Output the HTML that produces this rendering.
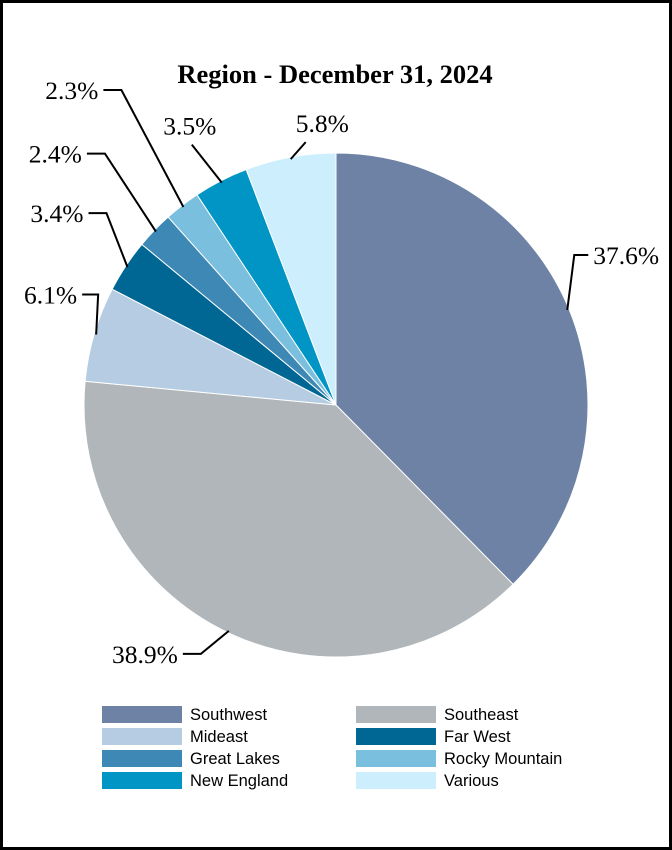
<!DOCTYPE html>
<html><head><meta charset="utf-8">
<style>
body{margin:0;background:#fff;}
#wrap{position:relative;width:672px;height:850px;background:#fff;}
svg{position:absolute;left:0;top:0;}
</style></head>
<body>
<div id="wrap">
<svg id="chart" width="672" height="850">
<rect x="1.5" y="1.5" width="669" height="847" fill="#fff" stroke="#000" stroke-width="3"/>
<text x="335" y="83" text-anchor="middle" font-family="Liberation Serif, serif" font-weight="bold" font-size="26.5">Region - December 31, 2024</text>
<g id="slices"></g><g id="labels"></g><g id="legend"></g>
</svg>
</div>
<script>
const categories=["Southwest","Southeast","Mideast","Far West","Great Lakes","Rocky Mountain","New England","Various"];
const values=[37.6,38.9,6.1,3.4,2.4,2.3,3.5,5.8];
const valueLabels=["37.6%","38.9%","6.1%","3.4%","2.4%","2.3%","3.5%","5.8%"];
const colors=["#6e82a5","#b0b6b9","#b6cce2","#006795","#3e88b5","#7bbfdf","#0095c4","#cdeefc"];
// layout only: leader elbow offsets, horizontal length, label side
const elbowOff=[[7,-55],[-28,23],[2,-40],[-21,-54],[-51,-78],[-62,-117],[-30,-38],[15,-17]];
const horiz=[14,-18,-16,-18,-18,-18,0,0];
const NS="http://www.w3.org/2000/svg";
const cx=336,cy=405,r=252;
const total=values.reduce((a,b)=>a+b,0);
function pt(a,rad){return [cx+rad*Math.sin(a),cy-rad*Math.cos(a)];}
const gS=document.getElementById('slices'),gL=document.getElementById('labels'),gG=document.getElementById('legend');
let acc=0;
values.forEach((v,i)=>{
 const a0=acc/total*2*Math.PI; acc+=v; const a1=acc/total*2*Math.PI;
 const p0=pt(a0,r),p1=pt(a1,r);
 const p=document.createElementNS(NS,'path');
 p.setAttribute('d',`M${cx},${cy}L${p0[0]},${p0[1]}A${r},${r} 0 ${a1-a0>Math.PI?1:0} 1 ${p1[0]},${p1[1]}Z`);
 p.setAttribute('fill',colors[i]);p.setAttribute('stroke','#fff');p.setAttribute('stroke-width','1');
 
 
 gS.appendChild(p);
 const am=(a0+a1)/2, an=pt(am,r-2);
 const e=[an[0]+elbowOff[i][0],an[1]+elbowOff[i][1]];
 const h=[e[0]+horiz[i],e[1]];
 const l=document.createElementNS(NS,'polyline');
 l.setAttribute('points',`${an[0]},${an[1]} ${e[0]},${e[1]} ${h[0]},${h[1]}`);
 l.setAttribute('fill','none');l.setAttribute('stroke','#000');l.setAttribute('stroke-width','2');
 
 
 gL.appendChild(l);
 const t=document.createElementNS(NS,'text');
 let tx,ty,anc;
 if(horiz[i]>0){tx=h[0]+5;ty=h[1]+9;anc='start';}
 else if(horiz[i]<0){tx=h[0]-5;ty=h[1]+9;anc='end';}
 else {tx=e[0]+(elbowOff[i][0]<0?-2:-10);ty=e[1]-10;anc=elbowOff[i][0]<0?'middle':'start';}
 t.setAttribute('x',tx);t.setAttribute('y',ty);t.setAttribute('text-anchor',anc);
 t.setAttribute('font-family','Liberation Serif, serif');t.setAttribute('font-size','25.5');
 t.textContent=valueLabels[i];
 
 
 gL.appendChild(t);
 const col=i%2,row=Math.floor(i/2);
 const sx=102+col*254,sy=706+row*22;
 const g=document.createElementNS(NS,'g');
 
 
 const rc=document.createElementNS(NS,'rect');
 rc.setAttribute('x',sx);rc.setAttribute('y',sy);rc.setAttribute('width',80);rc.setAttribute('height',17);rc.setAttribute('fill',colors[i]);
 
 
 const tt=document.createElementNS(NS,'text');
 tt.setAttribute('x',sx+88);tt.setAttribute('y',sy+14);tt.setAttribute('font-family','Liberation Sans, sans-serif');tt.setAttribute('font-size','16.5');
 tt.textContent=categories[i];
 
 
 g.appendChild(rc);g.appendChild(tt);gG.appendChild(g);
});
</script>
</body></html>
